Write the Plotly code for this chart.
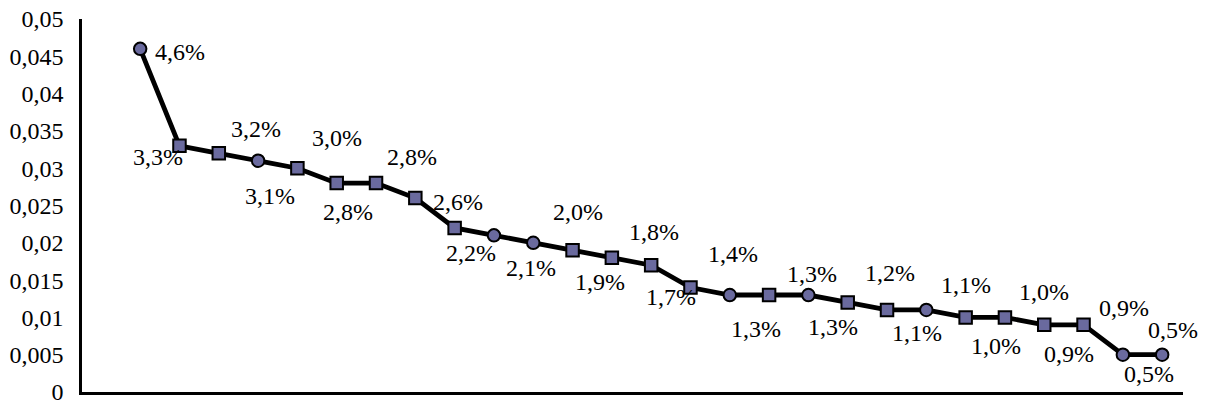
import plotly.graph_objects as go

# Share of each position (ranked), values as fractions
values = [0.046, 0.033, 0.032, 0.031, 0.030, 0.028, 0.028, 0.026, 0.022, 0.021,
          0.020, 0.019, 0.018, 0.017, 0.014, 0.013, 0.013, 0.013, 0.012, 0.011,
          0.011, 0.010, 0.010, 0.009, 0.009, 0.005, 0.005]
categories = list(range(len(values)))

# Y-axis ticks
tick_values = [0, 0.005, 0.01, 0.015, 0.02, 0.025, 0.03, 0.035, 0.04, 0.045, 0.05]
tick_labels = ["0", "0,005", "0,01", "0,015", "0,02", "0,025", "0,03",
               "0,035", "0,04", "0,045", "0,05"]

# Marker symbols per point
symbols = ["circle", "square", "square", "circle", "square", "square", "square",
           "square", "square", "circle", "circle", "square", "square", "square",
           "square", "circle", "square", "circle", "square", "square", "circle",
           "square", "square", "square", "square", "circle", "circle"]

# Label offsets in pixels (dx right, dy down) relative to each point
label_offsets = [(40, 3), (-21, 11), (37, -24), (12, 35), (40, -30), (11, 29),
                 (36, -26), (43, 4), (16, 25), (37, 33), (45, -31), (27, 32),
                 (42, -26), (20, 32), (43, -34), (26, 34), (43, -21), (25, 32),
                 (42, -29), (30, 23), (40, -25), (30, 29), (39, -25), (25, 29),
                 (40, -17), (26, 19), (11, -25)]

FONT = "Liberation Serif, Times New Roman, serif"
FONT_SIZE = 24

fig = go.Figure()
fig.add_trace(go.Scatter(
    x=categories, y=values, mode="lines+markers",
    line=dict(color="black", width=4.8),
    marker=dict(symbol=symbols, size=12.5, color="#6a6a9e",
                line=dict(color="black", width=2)),
    hoverinfo="skip", showlegend=False,
))

for x, v, (dx, dy) in zip(categories, values, label_offsets):
    fig.add_annotation(
        x=x, y=v, text=f"{v * 100:.1f}%".replace(".", ","),
        showarrow=False, xshift=dx, yshift=-dy,
        font=dict(family=FONT, size=FONT_SIZE, color="black"),
    )

fig.update_layout(
    width=1214, height=405,
    margin=dict(l=82, r=31, t=19, b=13, autoexpand=False),
    plot_bgcolor="white", paper_bgcolor="white",
    font=dict(family=FONT, size=FONT_SIZE, color="black"),
)
fig.update_xaxes(
    range=[-1.48, 26.53], showticklabels=False, showgrid=False, zeroline=False,
    showline=True, linecolor="black", linewidth=2.5, ticks="", automargin=False,
)
fig.update_yaxes(
    range=[0, 0.05], tickvals=tick_values, ticktext=tick_labels,
    showgrid=False, zeroline=False, showline=True, linecolor="black",
    linewidth=2.5, ticks="", ticklabelstandoff=11, automargin=False,
    ticklabeloverflow="allow",
    tickfont=dict(family=FONT, size=FONT_SIZE, color="black"),
)

fig.write_html("out.html")
